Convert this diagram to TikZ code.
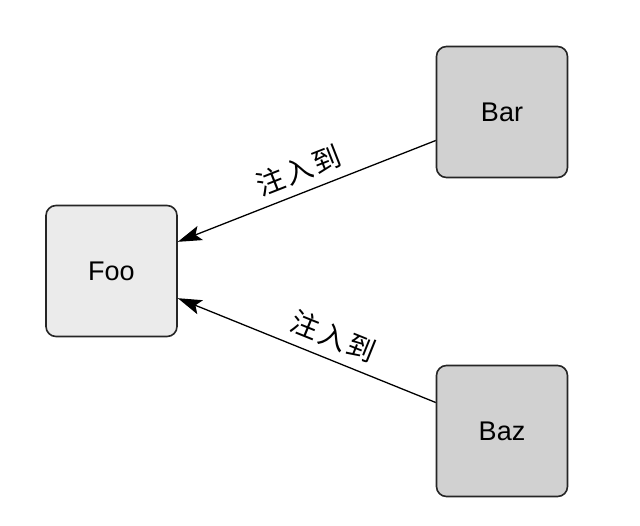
\documentclass[tikz,border=0pt]{standalone}
\usepackage{fontspec}
\setmainfont{Liberation Sans}
\newfontfamily\cjk[LetterSpace=8]{Noto Sans CJK SC}
\usetikzlibrary{arrows.meta,calc}
\begin{document}
\begin{tikzpicture}[x=1pt,y=-1pt,
  box/.style={draw=black!85,line width=1.6pt,rounded corners=10pt,minimum width=131pt,minimum height=131pt,inner sep=0pt,font=\fontsize{27}{30}\selectfont},
  lightbox/.style={box,fill=black!8},
  darkbox/.style={box,fill=black!18},
  link/.style={line width=1.3pt,{Stealth[length=24pt,width=15pt,inset=5pt]}-},
  lab/.style={font=\cjk\fontsize{28}{30}\selectfont,sloped,above=6pt}]
\useasboundingbox[fill=white] (0,0) rectangle (640,525);
\node[lightbox] (Foo) at (111.5,271) {Foo};
\node[darkbox] (Bar) at (502,112) {Bar};
\node[darkbox] (Baz) at (502,431) {Baz};
\draw[link] ($(Foo.east)!0.44!(Foo.north east)$) -- node[lab,pos=0.5] {注入到} ($(Bar.west)!0.43!(Bar.south west)$);
\draw[link] ($(Foo.east)!0.41!(Foo.south east)$) -- node[lab,pos=0.57] {注入到} ($(Baz.west)!0.43!(Baz.north west)$);
\end{tikzpicture}
\end{document}
